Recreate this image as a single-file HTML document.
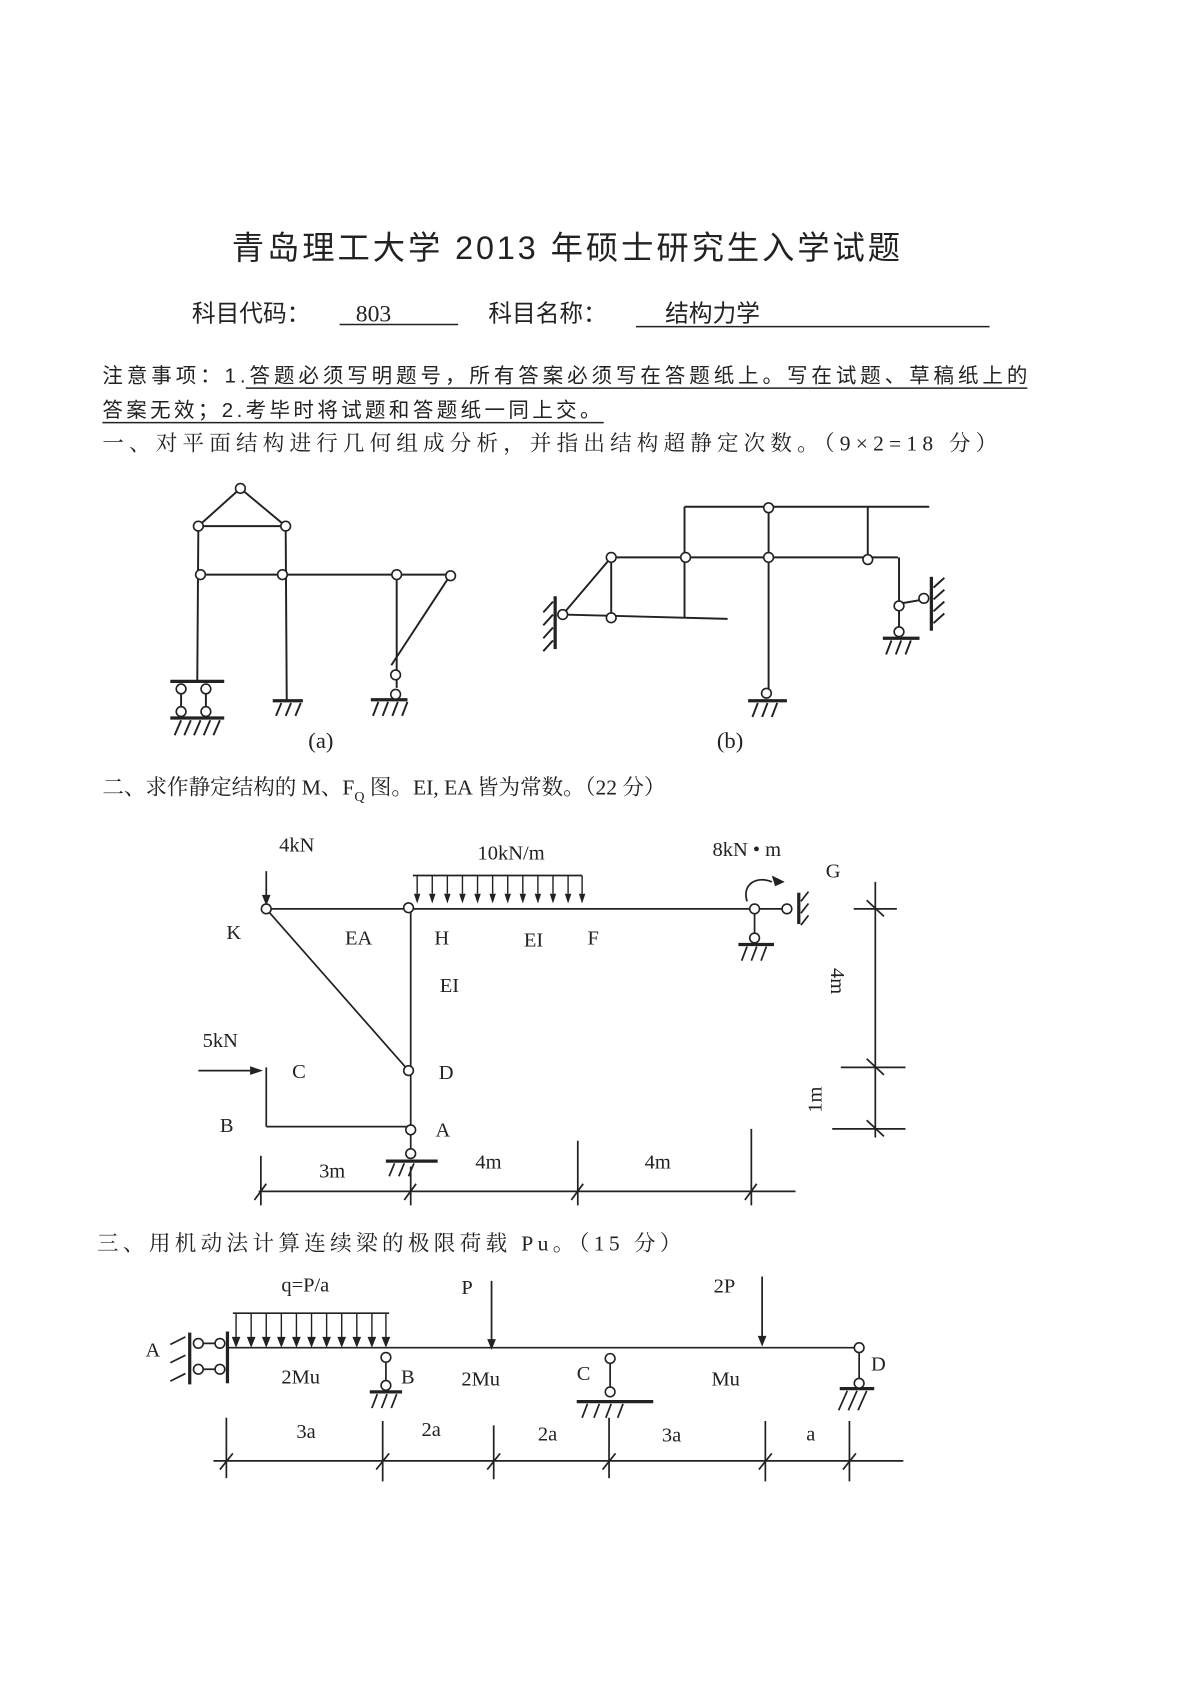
<!DOCTYPE html>
<html><head><meta charset="utf-8"><style>
html,body{margin:0;padding:0;background:#fff;}
svg{display:block;}
.cn{font-family:"Liberation Serif","Noto Serif CJK SC",serif;fill:#222;}
.t{font-family:"Liberation Serif",serif;fill:#222;}
</style></head><body>
<svg width="1189" height="1683" viewBox="0 0 1103 1561" preserveAspectRatio="none" xmlns="http://www.w3.org/2000/svg">
<rect width="1103" height="1561" fill="#fff"/>
<g class="cn">
<text x="215" y="240" font-size="30" textLength="620" font-family="Liberation Sans,Noto Sans CJK SC,sans-serif">青岛理工大学 2013 年硕士研究生入学试题</text>
<text x="178" y="298" font-size="22" font-family="Liberation Sans,Noto Sans CJK SC,sans-serif">科目代码：</text>
<text x="330" y="298" font-size="22" class="t">803</text>
<text x="453" y="298" font-size="22" font-family="Liberation Sans,Noto Sans CJK SC,sans-serif">科目名称：</text>
<text x="617" y="298" font-size="22" font-family="Liberation Sans,Noto Sans CJK SC,sans-serif">结构力学</text>
<text x="95" y="355" font-size="19" textLength="858" font-family="Liberation Sans,Noto Sans CJK SC,sans-serif">注意事项：1.答题必须写明题号，所有答案必须写在答题纸上。写在试题、草稿纸上的</text>
<text x="95" y="387" font-size="19" textLength="462" font-family="Liberation Sans,Noto Sans CJK SC,sans-serif">答案无效；2.考毕时将试题和答题纸一同上交。</text>
<text x="95" y="418" font-size="20" textLength="830">一、对平面结构进行几何组成分析，并指出结构超静定次数。（9×2=18 分）</text>
<text x="95" y="737" font-size="20">二、求作静定结构的 M、F<tspan font-size="13" dy="6">Q</tspan><tspan dy="-6"> 图。EI, EA 皆为常数。（22 分）</tspan></text>
<text x="90" y="1160" font-size="20" textLength="542">三、用机动法计算连续梁的极限荷载 Pu。（15 分）</text>
</g>
<g stroke="#222" stroke-width="1.4" fill="none">
<line x1="315" y1="301" x2="425" y2="301"/>
<line x1="590" y1="303" x2="918" y2="303"/>
<line x1="228" y1="360" x2="953" y2="360"/>
<line x1="95" y1="392" x2="560" y2="392"/>
</g>

<!-- Figure (a) -->
<g stroke="#222" stroke-width="1.8" fill="none">
<line x1="223" y1="453" x2="184" y2="488"/><line x1="223" y1="453" x2="265" y2="488"/>
<line x1="184" y1="488" x2="265" y2="488"/>
<line x1="184" y1="488" x2="183" y2="632"/>
<line x1="265" y1="488" x2="266" y2="650"/>
<line x1="186" y1="533" x2="418" y2="533"/>
<line x1="368" y1="533" x2="368" y2="638"/>
<line x1="418" y1="533" x2="363" y2="617"/>
<line x1="158" y1="632" x2="208" y2="632" stroke-width="3"/>
<line x1="168" y1="640" x2="168" y2="660"/><line x1="191" y1="640" x2="191" y2="660"/>
<line x1="158" y1="666" x2="208" y2="666" stroke-width="3"/>
<path d="M168 668l-6 14M177 668l-6 14M186 668l-6 14M195 668l-6 14M204 668l-6 14"/>
<line x1="253" y1="650" x2="281" y2="650" stroke-width="3"/>
<path d="M261 652l-5 12M270 652l-5 12M279 652l-5 12"/>
<line x1="344" y1="649" x2="378" y2="649" stroke-width="3"/>
<path d="M351 651l-5 13M360 651l-5 13M369 651l-5 13M378 651l-5 13"/>
</g>
<g stroke="#222" stroke-width="1.5" fill="#fff">
<circle cx="223" cy="453" r="4.5"/><circle cx="184" cy="488" r="4.5"/><circle cx="265" cy="488" r="4.5"/>
<circle cx="186" cy="533" r="4.5"/><circle cx="262" cy="533" r="4.5"/><circle cx="368" cy="533" r="4.5"/><circle cx="418" cy="534" r="4.5"/>
<circle cx="168" cy="639" r="4.5"/><circle cx="191" cy="639" r="4.5"/><circle cx="168" cy="660" r="4.5"/><circle cx="191" cy="660" r="4.5"/>
<circle cx="367" cy="626" r="4.5"/><circle cx="367" cy="644" r="4.5"/>
</g>
<text x="286" y="694" font-size="21" class="t">(a)</text>

<!-- Figure (b) -->
<g stroke="#222" stroke-width="1.8" fill="none">
<line x1="635" y1="470" x2="862" y2="470"/>
<line x1="635" y1="470" x2="635" y2="573"/>
<line x1="713" y1="470" x2="713" y2="640"/>
<line x1="805" y1="470" x2="805" y2="518"/>
<line x1="567" y1="517" x2="833" y2="517"/>
<line x1="834" y1="517" x2="834" y2="585"/>
<line x1="834" y1="560" x2="857" y2="556"/>
<line x1="864" y1="535" x2="864" y2="585" stroke-width="3"/>
<path d="M866 545l10-9M866 556l10-9M866 567l10-9M866 578l10-9"/>
<line x1="819" y1="592" x2="853" y2="592" stroke-width="3"/>
<path d="M827 594l-5 13M836 594l-5 13M845 594l-5 13"/>
<line x1="694" y1="650" x2="730" y2="650" stroke-width="3"/>
<path d="M703 652l-5 13M712 652l-5 13M721 652l-5 13"/>
<line x1="567" y1="517" x2="567" y2="572"/>
<line x1="522" y1="570" x2="567" y2="517"/>
<line x1="522" y1="570" x2="675" y2="574"/>
<line x1="515" y1="553" x2="515" y2="602" stroke-width="3"/>
<path d="M513 558l-9 10M513 570l-9 10M513 582l-9 10M513 594l-9 10"/>
</g>
<g stroke="#222" stroke-width="1.5" fill="#fff">
<circle cx="713" cy="471" r="4.5"/>
<circle cx="567" cy="517" r="4.5"/><circle cx="636" cy="517" r="4.5"/><circle cx="713" cy="517" r="4.5"/><circle cx="805" cy="519" r="4.5"/>
<circle cx="834" cy="562" r="4.5"/><circle cx="857" cy="555" r="4.5"/><circle cx="834" cy="586" r="4.5"/>
<circle cx="711" cy="643" r="4.5"/>
<circle cx="522" cy="570" r="4.5"/><circle cx="567" cy="573" r="4.5"/>
</g>
<text x="665" y="694" font-size="21" class="t">(b)</text>

<!-- Figure 2 -->
<g stroke="#222" stroke-width="1.6" fill="none">
<line x1="247" y1="843" x2="733" y2="843"/>
<line x1="741" y1="828" x2="741" y2="857" stroke-width="3"/>
<path d="M743 836l7-9M743 847l7-9M743 858l7-9"/>
<line x1="700" y1="843" x2="700" y2="870"/>
<line x1="685" y1="876" x2="718" y2="876" stroke-width="3"/>
<path d="M693 878l-5 13M702 878l-5 13M711 878l-5 13"/>
<path d="M693 836 C688 820,702 812,716 818"/>
<line x1="247" y1="808" x2="247" y2="836"/>
<line x1="383" y1="812" x2="540" y2="812"/>
<line x1="247" y1="843" x2="379" y2="993"/>
<line x1="381" y1="843" x2="381" y2="1043"/>
<line x1="184" y1="993" x2="232" y2="993"/>
<line x1="247" y1="990" x2="247" y2="1045"/>
<line x1="247" y1="1045" x2="381" y2="1045"/>
<line x1="381" y1="1052" x2="381" y2="1066"/>
<line x1="358" y1="1077" x2="406" y2="1077" stroke-width="3"/>
<path d="M366 1079l-5 12M375 1079l-5 12M384 1079l-5 12"/>
<line x1="240" y1="1105" x2="738" y2="1105"/>
<line x1="242" y1="1072" x2="242" y2="1118"/>
<line x1="381" y1="1082" x2="381" y2="1118"/>
<line x1="536" y1="1058" x2="536" y2="1118"/>
<line x1="697" y1="1047" x2="697" y2="1118"/>
<path d="M236 1113l11-15M375 1113l11-15M530 1113l11-15M691 1113l11-15"/>
<line x1="812" y1="818" x2="812" y2="1055"/>
<line x1="792" y1="843" x2="832" y2="843"/>
<line x1="780" y1="990" x2="840" y2="990"/>
<line x1="772" y1="1047" x2="840" y2="1047"/>
<path d="M804 835l16 15M804 982l16 15M804 1039l16 15"/>
</g>
<g fill="#222">
<path d="M247 840l-4-10h8z"/>
<path d="M244 993l-12-4v8z"/>
<path d="M728 818l-12-6 3 10z"/>
<path d="M387 838l-3-9h6zM401 838l-3-9h6zM415 838l-3-9h6zM429 838l-3-9h6zM443 838l-3-9h6zM457 838l-3-9h6zM471 838l-3-9h6zM485 838l-3-9h6zM499 838l-3-9h6zM513 838l-3-9h6zM527 838l-3-9h6zM540 838l-3-9h6z"/>
</g>
<g stroke="#222" stroke-width="1.3"><path d="M387 812v17M401 812v17M415 812v17M429 812v17M443 812v17M457 812v17M471 812v17M485 812v17M499 812v17M513 812v17M527 812v17M540 812v17"/></g>
<g stroke="#222" stroke-width="1.5" fill="#fff">
<circle cx="247" cy="843" r="4.5"/><circle cx="379" cy="842" r="4.5"/>
<circle cx="700" cy="843" r="4.5"/><circle cx="730" cy="843" r="4.5"/><circle cx="700" cy="870" r="4.5"/>
<circle cx="379" cy="993" r="4.5"/><circle cx="381" cy="1048" r="4.5"/><circle cx="381" cy="1070" r="4.5"/>
</g>
<g class="t" font-size="19">
<text x="259" y="790">4kN</text><text x="443" y="797">10kN/m</text><text x="661" y="794">8kN • m</text><text x="766" y="814">G</text>
<text x="210" y="871">K</text><text x="320" y="876">EA</text><text x="403" y="876">H</text><text x="486" y="878">EI</text><text x="545" y="876">F</text>
<text x="408" y="920">EI</text><text x="188" y="971">5kN</text><text x="271" y="1000">C</text><text x="407" y="1001">D</text>
<text x="204" y="1050">B</text><text x="404" y="1054">A</text>
<text x="296" y="1092">3m</text><text x="441" y="1084">4m</text><text x="598" y="1084">4m</text>
<text transform="translate(771,910) rotate(90)" text-anchor="middle">4m</text>
<text transform="translate(762,1020) rotate(-90)" text-anchor="middle">1m</text>
</g>

<!-- Figure 3 -->
<g stroke="#222" stroke-width="1.6" fill="none">
<line x1="212" y1="1250" x2="797" y2="1250"/>
<line x1="211" y1="1235" x2="211" y2="1283" stroke-width="3"/>
<line x1="176" y1="1236" x2="176" y2="1284" stroke-width="3"/>
<line x1="184" y1="1246" x2="204" y2="1246"/><line x1="184" y1="1270" x2="204" y2="1270"/>
<path d="M172 1240l-14 7M172 1257l-14 7M172 1274l-14 7"/>
<line x1="216" y1="1218" x2="361" y2="1218"/>
<line x1="456" y1="1188" x2="456" y2="1244"/>
<line x1="707" y1="1184" x2="707" y2="1241"/>
<line x1="358" y1="1255" x2="358" y2="1285"/>
<line x1="343" y1="1291" x2="373" y2="1291" stroke-width="3"/>
<path d="M350 1293l-5 13M359 1293l-5 13M368 1293l-5 13"/>
<line x1="566" y1="1262" x2="566" y2="1290"/>
<line x1="535" y1="1300" x2="606" y2="1300" stroke-width="3"/>
<path d="M545 1302l-5 13M556 1302l-5 13M567 1302l-5 13M578 1302l-5 13"/>
<line x1="797" y1="1250" x2="797" y2="1282"/>
<line x1="779" y1="1288" x2="811" y2="1288" stroke-width="3"/>
<path d="M786 1290l-8 18M795 1290l-8 18M804 1290l-8 18"/>
<line x1="198" y1="1355" x2="838" y2="1355"/>
<path d="M210 1315v56M355 1318v56M458 1322v50M565 1315v56M710 1318v56M788 1318v56"/>
<path d="M204 1363l12-15M349 1363l12-15M452 1363l12-15M559 1363l12-15M704 1363l12-15M782 1363l12-15"/>
</g>
<g fill="#222">
<path d="M456 1252l-4-10h8z"/><path d="M707 1249l-4-10h8z"/>
<path d="M219 1250l-4-10h8zM233 1250l-4-10h8zM247 1250l-4-10h8zM261 1250l-4-10h8zM275 1250l-4-10h8zM289 1250l-4-10h8zM303 1250l-4-10h8zM317 1250l-4-10h8zM331 1250l-4-10h8zM345 1250l-4-10h8zM358 1250l-4-10h8z"/>
</g>
<g stroke="#222" stroke-width="1.3"><path d="M219 1218v24M233 1218v24M247 1218v24M261 1218v24M275 1218v24M289 1218v24M303 1218v24M317 1218v24M331 1218v24M345 1218v24M358 1218v24"/></g>
<g stroke="#222" stroke-width="1.5" fill="#fff">
<circle cx="184" cy="1246" r="4.5"/><circle cx="204" cy="1246" r="4.5"/><circle cx="184" cy="1270" r="4.5"/><circle cx="204" cy="1270" r="4.5"/>
<circle cx="358" cy="1259" r="4.5"/><circle cx="358" cy="1285" r="4.5"/>
<circle cx="566" cy="1260" r="4.5"/><circle cx="566" cy="1291" r="4.5"/>
<circle cx="797" cy="1250" r="4.5"/><circle cx="797" cy="1283" r="4.5"/>
</g>
<g class="t" font-size="19">
<text x="135" y="1258">A</text><text x="261" y="1198">q=P/a</text><text x="428" y="1200">P</text><text x="662" y="1199">2P</text>
<text x="261" y="1283">2Mu</text><text x="372" y="1283">B</text><text x="428" y="1285">2Mu</text><text x="535" y="1280">C</text><text x="660" y="1285">Mu</text><text x="808" y="1271">D</text>
<text x="275" y="1334">3a</text><text x="391" y="1332">2a</text><text x="499" y="1336">2a</text><text x="614" y="1337">3a</text><text x="748" y="1336">a</text>
</g>
</svg>
</body></html>
